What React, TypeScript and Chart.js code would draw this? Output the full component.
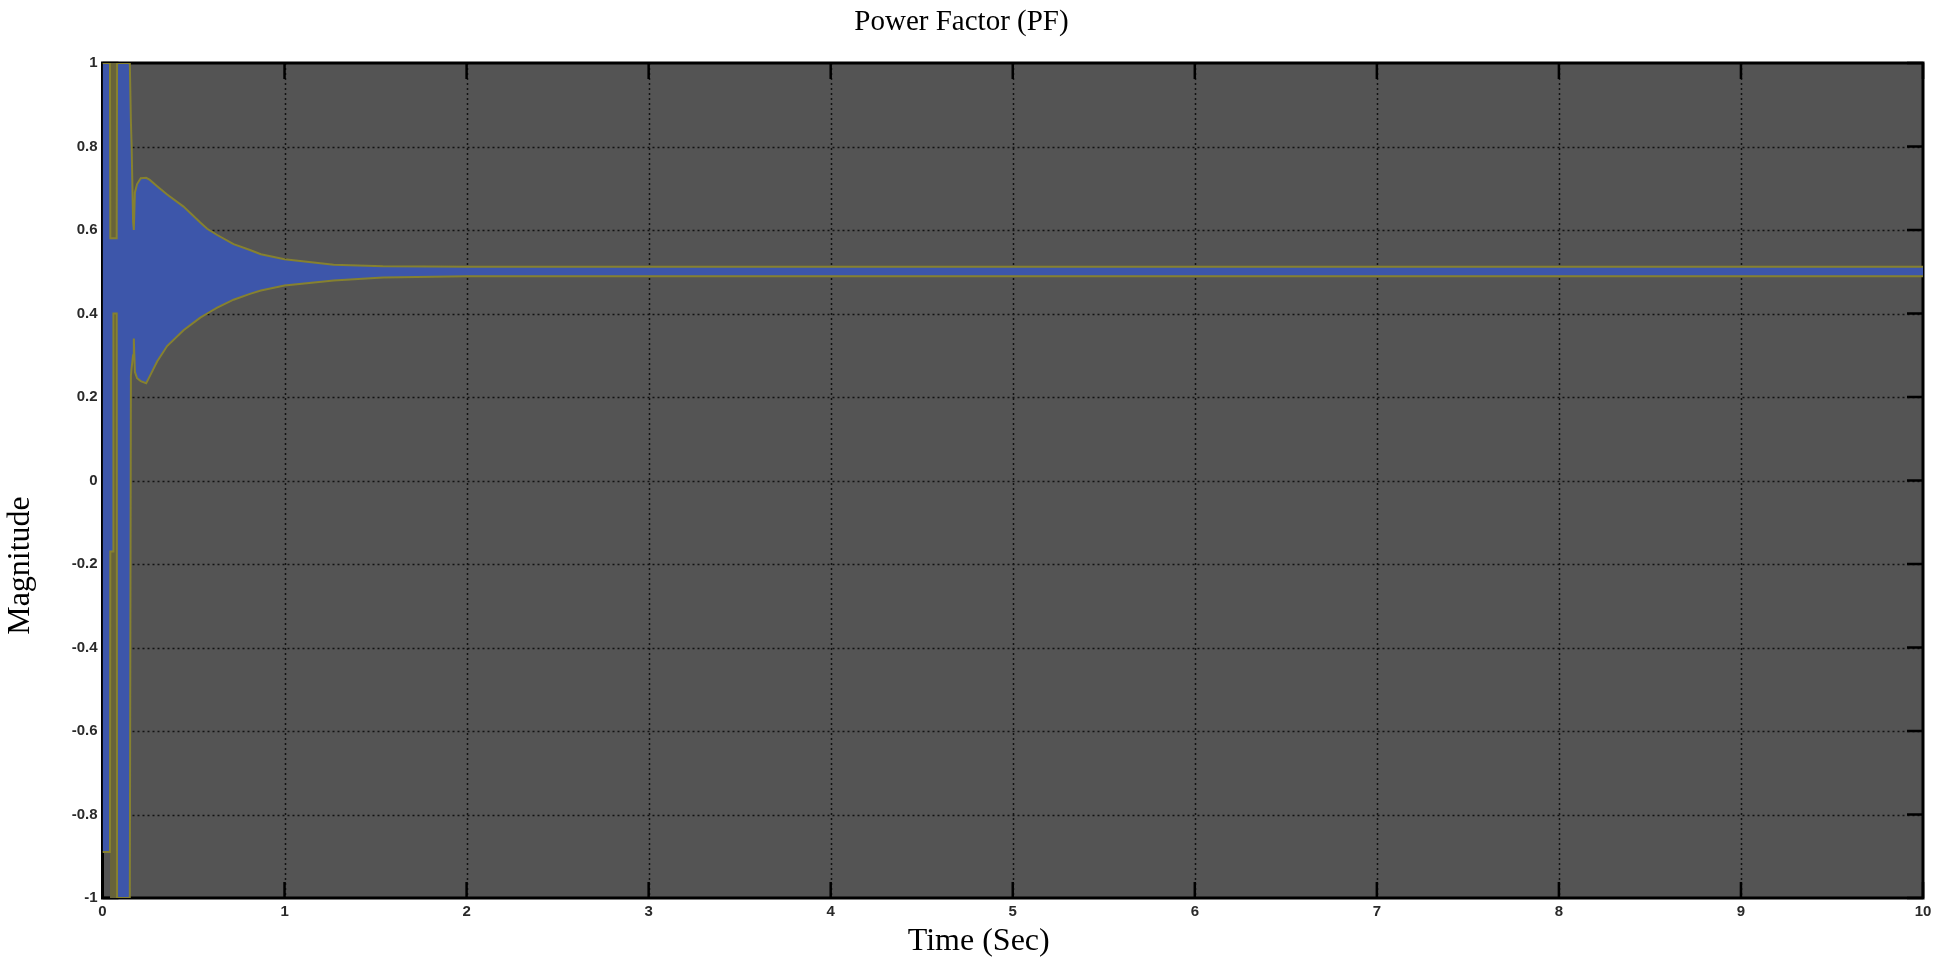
import React, { useEffect, useRef } from "react";
import { Chart, registerables } from "chart.js";

Chart.register(...registerables);

// ---- data ----
const times = [0, 0.041, 0.043, 0.058, 0.06, 0.078, 0.08, 0.15, 0.156, 0.16, 0.168, 0.172, 0.178, 0.19, 0.21, 0.24, 0.26, 0.3, 0.355, 0.445, 0.537, 0.575, 0.63, 0.72, 0.81, 0.87, 1.0, 1.27, 1.54, 2.0, 3, 4, 5, 6, 7, 8, 9, 10];
const upperEnvelope = [1, 1, 0.58, 0.58, 0.58, 0.58, 1, 1, 0.86, 0.8, 0.62, 0.6, 0.69, 0.71, 0.724, 0.725, 0.72, 0.705, 0.685, 0.656, 0.618, 0.603, 0.588, 0.566, 0.552, 0.542, 0.53, 0.517, 0.513, 0.512, 0.512, 0.512, 0.512, 0.512, 0.512, 0.512, 0.512, 0.512];
const lowerEnvelope = [-0.89, -0.89, -0.17, -0.17, 0.4, 0.4, -1, -1, 0.25, 0.27, 0.3, 0.34, 0.26, 0.245, 0.238, 0.233, 0.25, 0.285, 0.322, 0.36, 0.39, 0.4, 0.414, 0.433, 0.447, 0.455, 0.467, 0.479, 0.486, 0.489, 0.489, 0.489, 0.489, 0.489, 0.489, 0.489, 0.489, 0.489];
const bandTimes = [0.041, 0.085];
const bandValues = [1, 1];

const xTickValues = [0, 1, 2, 3, 4, 5, 6, 7, 8, 9, 10];
const xTickLabels = ["0", "1", "2", "3", "4", "5", "6", "7", "8", "9", "10"];
const yTickValues = [-1, -0.8, -0.6, -0.4, -0.2, 0, 0.2, 0.4, 0.6, 0.8, 1];
const yTickLabels = ["-1", "-0.8", "-0.6", "-0.4", "-0.2", "0", "0.2", "0.4", "0.6", "0.8", "1"];

const titleText = "Power Factor (PF)";
const xTitleText = "Time (Sec)";
const yTitleText = "Magnitude";

const BLUE = "#3d56aa";
const OLIVE_LINE = "#86812f";
const OLIVE_BAND = "#67633a";
const PLOT_BG = "#545454";
const SERIF = '"Liberation Serif", "Times New Roman", serif';
const SANS = '"Liberation Sans", Arial, sans-serif';

const framePlugin = {
  id: "matlabFrame",
  beforeDraw(chart: any) {
    const { ctx, chartArea: a, scales } = chart;
    const xs = scales.x;
    const ys = scales.y;
    const w = a.right - a.left;
    const h = a.bottom - a.top;
    ctx.save();
    ctx.fillStyle = PLOT_BG;
    ctx.fillRect(a.left, a.top, w, h);

    // dotted grid
    ctx.strokeStyle = "#121212";
    ctx.lineWidth = 1.5;
    ctx.setLineDash([2, 3]);
    xTickValues.slice(1, -1).forEach((v) => {
      const px = Math.round(xs.getPixelForValue(v)) + 0.5;
      ctx.beginPath();
      ctx.moveTo(px, a.top);
      ctx.lineTo(px, a.bottom);
      ctx.stroke();
    });
    yTickValues.slice(1, -1).forEach((v) => {
      const py = Math.round(ys.getPixelForValue(v)) + 0.5;
      ctx.beginPath();
      ctx.moveTo(a.left, py);
      ctx.lineTo(a.right, py);
      ctx.stroke();
    });
    ctx.setLineDash([]);

    // inward tick marks
    const tl = 16;
    ctx.strokeStyle = "#000";
    ctx.lineWidth = 2.5;
    xTickValues.forEach((v) => {
      const px = xs.getPixelForValue(v);
      ctx.beginPath();
      ctx.moveTo(px, a.bottom);
      ctx.lineTo(px, a.bottom - tl);
      ctx.moveTo(px, a.top);
      ctx.lineTo(px, a.top + tl);
      ctx.stroke();
    });
    yTickValues.forEach((v) => {
      const py = ys.getPixelForValue(v);
      ctx.beginPath();
      ctx.moveTo(a.left, py);
      ctx.lineTo(a.left + tl, py);
      ctx.moveTo(a.right, py);
      ctx.lineTo(a.right - tl, py);
      ctx.stroke();
    });

    // box
    ctx.lineWidth = 3;
    ctx.strokeRect(a.left, a.top, w, h);
    ctx.restore();
  },
  afterDraw(chart: any) {
    const { ctx, chartArea: a } = chart;
    ctx.save();
    ctx.fillStyle = "#000";
    ctx.textAlign = "center";
    ctx.textBaseline = "middle";
    ctx.font = "32px " + SERIF;
    ctx.fillText(xTitleText, (a.left + a.right) / 2 - 34, a.bottom + 44);
    ctx.translate(21, (a.top + a.bottom) / 2 + 85);
    ctx.rotate(-Math.PI / 2);
    ctx.fillText(yTitleText, 0, 0);
    ctx.restore();
  },
};

export default function App() {
  const canvasRef = useRef<HTMLCanvasElement | null>(null);

  useEffect(() => {
    document.body.style.margin = "0";
    const canvas = canvasRef.current;
    if (!canvas) return;
    const chart = new Chart(canvas, {
      type: "line",
      data: {
        datasets: [
          {
            label: "upper",
            data: times.map((t, i) => ({ x: t, y: upperEnvelope[i] })),
            borderColor: OLIVE_LINE,
            borderWidth: 2,
            backgroundColor: BLUE,
            fill: "+1",
            pointRadius: 0,
            tension: 0,
          },
          {
            label: "lower",
            data: times.map((t, i) => ({ x: t, y: lowerEnvelope[i] })),
            borderColor: OLIVE_LINE,
            borderWidth: 2,
            backgroundColor: BLUE,
            fill: false,
            pointRadius: 0,
            tension: 0,
          },
          {
            label: "band",
            data: bandTimes.map((t, i) => ({ x: t, y: bandValues[i] })),
            borderWidth: 0,
            borderColor: OLIVE_BAND,
            backgroundColor: OLIVE_BAND,
            fill: { value: -1 },
            pointRadius: 0,
            tension: 0,
          },
        ],
      },
      options: {
        animation: false,
        responsive: true,
        maintainAspectRatio: false,
        devicePixelRatio: 1,
        layout: { padding: { left: 0, right: 15, top: 0, bottom: 0 } },
        plugins: {
          legend: { display: false },
          tooltip: { enabled: false },
          filler: { drawTime: "beforeDatasetsDraw" },
          title: {
            display: true,
            text: titleText,
            color: "#000",
            font: { family: SERIF, size: 29, weight: "normal" },
            padding: { top: 4.6, bottom: 23.6 },
          },
        },
        scales: {
          x: {
            type: "linear",
            min: 0,
            max: 10,
            grid: { display: false, drawTicks: false },
            border: { display: false },
            afterBuildTicks: (scale: any) => {
              scale.ticks = xTickValues.map((value) => ({ value }));
            },
            afterFit: (scale: any) => {
              scale.height = 66;
            },
            ticks: {
              padding: 5,
              color: "#2a2a2a",
              font: { family: SANS, size: 15, weight: "bold" },
              callback: (_v: any, i: number) => xTickLabels[i],
              maxRotation: 0,
            },
          },
          y: {
            type: "linear",
            min: -1,
            max: 1,
            grid: { display: false, drawTicks: false },
            border: { display: false },
            afterBuildTicks: (scale: any) => {
              scale.ticks = yTickValues.map((value) => ({ value }));
            },
            afterFit: (scale: any) => {
              scale.width = 102.5;
            },
            ticks: {
              padding: 5,
              color: "#2a2a2a",
              font: { family: SANS, size: 15, weight: "bold" },
              callback: (_v: any, i: number) => yTickLabels[i],
            },
          },
        },
      },
      plugins: [framePlugin],
    });
    return () => chart.destroy();
  }, []);

  return (
    <div style={{ position: "fixed", left: 0, top: 0, width: 1938, height: 964, background: "#fff" }}>
      <canvas ref={canvasRef} />
    </div>
  );
}
